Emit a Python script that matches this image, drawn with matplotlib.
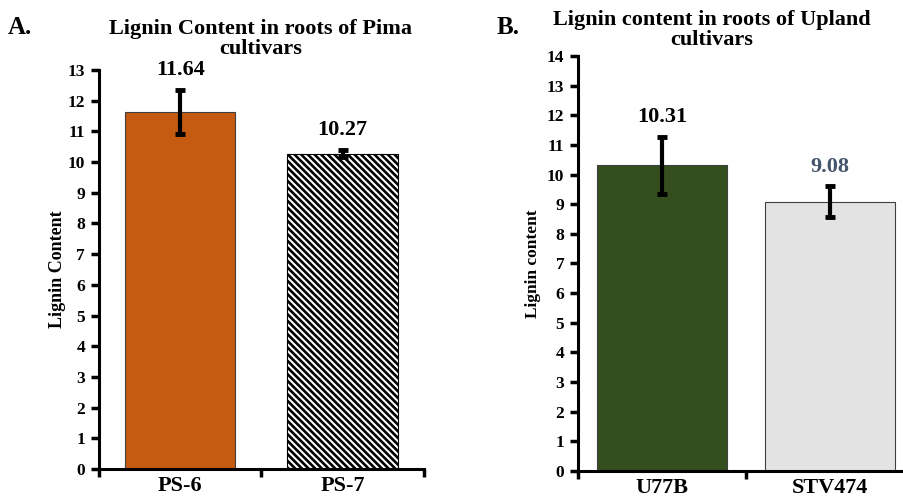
import matplotlib
matplotlib.use("Agg")
import matplotlib.pyplot as plt

# data
pima_cultivars = ["PS-6", "PS-7"]
pima_lignin = [11.64, 10.27]
pima_err = [0.72, 0.12]

upland_cultivars = ["U77B", "STV474"]
upland_lignin = [10.31, 9.08]
upland_err = [0.95, 0.52]

plt.rcParams["font.family"] = ["Liberation Serif", "DejaVu Serif"]
plt.rcParams["font.weight"] = "bold"
plt.rcParams["hatch.linewidth"] = 1.9

fig = plt.figure(figsize=(9.04, 4.99), dpi=100)
axA = fig.add_axes([0.1095, 0.0601, 0.3595, 0.7996])
axB = fig.add_axes([0.6394, 0.0561, 0.3717, 0.8317])


def style_axis(ax, cats, ymax):
    ax.set_xlim(-0.5, len(cats) - 0.5)
    ax.set_ylim(0, ymax)
    ax.set_yticks(range(0, ymax + 1))
    ax.spines["top"].set_visible(False)
    ax.spines["right"].set_visible(False)
    ax.spines["left"].set_linewidth(2.2)
    ax.spines["bottom"].set_linewidth(2.2)
    # category boundaries get the tick marks, like Excel
    ax.set_xticks([i - 0.5 for i in range(len(cats) + 1)])
    ax.set_xticklabels([])
    ax.set_xticks(range(len(cats)), minor=True)
    ax.set_xticklabels(cats, minor=True, fontsize=16, fontweight="bold")
    ax.tick_params(axis="x", which="minor", length=0, pad=5)
    ax.tick_params(axis="x", which="major", length=6, width=2.5, direction="out")
    ax.tick_params(axis="y", length=6, width=2.5, direction="out",
                   labelsize=12.5, pad=4)
    for lab in ax.get_yticklabels():
        lab.set_fontweight("bold")


# Panel A
bA = axA.bar(range(2), pima_lignin, width=0.68,
             color=["#C55A11", "white"], edgecolor=["#404040", "black"],
             linewidth=0.8)
bA[1].set_hatch("\\\\\\\\\\")
axA.errorbar(range(2), pima_lignin, yerr=pima_err, fmt="none", ecolor="black",
             elinewidth=3, capsize=3.5, capthick=3.5)
style_axis(axA, pima_cultivars, 13)
axA.set_ylabel("Lignin Content", fontsize=13, fontweight="bold", labelpad=1)
for i, (v, e) in enumerate(zip(pima_lignin, pima_err)):
    axA.annotate(f"{v:.2f}", (i, v + e), xytext=(0, 7), textcoords="offset points",
                 ha="center", va="bottom", fontsize=16, fontweight="bold",
                 color="black")

# Panel B
axB.bar(range(2), upland_lignin, width=0.77,
        color=["#344E1D", "#E3E3E3"], edgecolor="#404040", linewidth=0.8)
axB.errorbar(range(2), upland_lignin, yerr=upland_err, fmt="none", ecolor="black",
             elinewidth=3, capsize=3.5, capthick=3.5)
style_axis(axB, upland_cultivars, 14)
axB.set_ylabel("Lignin content", fontsize=12.5, fontweight="bold", labelpad=4)
label_colors = ["black", "#44546A"]
for i, (v, e) in enumerate(zip(upland_lignin, upland_err)):
    axB.annotate(f"{v:.2f}", (i, v + e), xytext=(0, 7), textcoords="offset points",
                 ha="center", va="bottom", fontsize=16, fontweight="bold",
                 color=label_colors[i])

# titles and panel letters
fig.text(261 / 904, 1 - 39 / 499, "Lignin Content in roots of Pima\ncultivars",
         ha="center", va="center", fontsize=16, fontweight="bold",
         linespacing=1.0)
fig.text(712 / 904, 1 - 30 / 499, "Lignin content in roots of Upland\ncultivars",
         ha="center", va="center", fontsize=16, fontweight="bold",
         linespacing=1.0)
fig.text(8 / 904, 1 - 27 / 499, "A.", ha="left", va="center", fontsize=18,
         fontweight="bold")
fig.text(497 / 904, 1 - 27 / 499, "B.", ha="left", va="center", fontsize=18,
         fontweight="bold")

fig.savefig("out.png", dpi=100)
